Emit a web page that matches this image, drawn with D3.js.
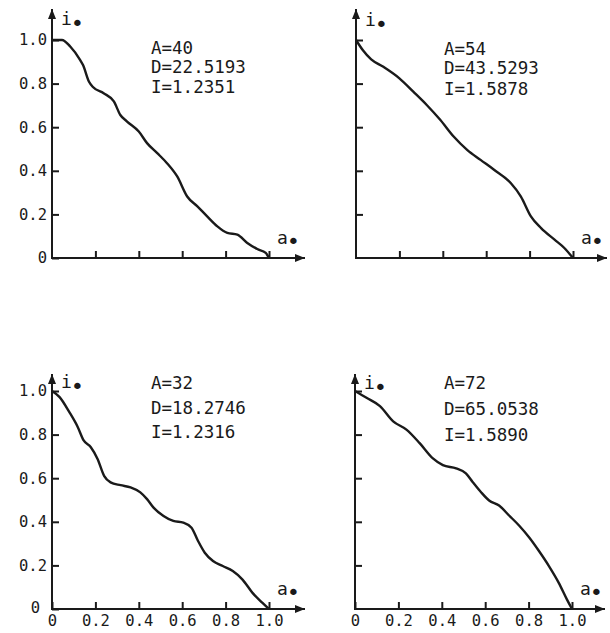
<!DOCTYPE html>
<html lang="en">
<head>
<meta charset="utf-8">
<title>i* against a* for four profiles</title>
<script src="https://d3js.org/d3.v7.min.js"></script>
<style>
  body { margin: 0; background: #fff; }
  text { font-family: "DejaVu Sans Mono", monospace; fill: #1a1a1a; }
</style>
</head>
<body>
<script>
// panel A=40
var a40 = [0, 0.046, 0.085, 0.13, 0.143, 0.17, 0.19, 0.238, 0.285, 0.315, 0.346, 0.4, 0.438, 0.485, 0.53, 0.577, 0.623, 0.67, 0.715, 0.762, 0.808, 0.854, 0.9, 0.946, 0.985, 1.0];
var i40 = [1.0, 1.0, 0.969, 0.908, 0.885, 0.81, 0.783, 0.756, 0.718, 0.656, 0.626, 0.58, 0.527, 0.481, 0.435, 0.374, 0.282, 0.237, 0.191, 0.145, 0.115, 0.107, 0.069, 0.041, 0.023, 0];
var notes40 = ["A=40", "D=22.5193", "I=1.2351"];

// panel A=54
var a54 = [0, 0.031, 0.07, 0.124, 0.2, 0.264, 0.326, 0.388, 0.45, 0.512, 0.574, 0.636, 0.713, 0.76, 0.806, 0.853, 0.915, 0.96, 1.0];
var i54 = [1.0, 0.954, 0.911, 0.878, 0.824, 0.763, 0.702, 0.634, 0.557, 0.496, 0.45, 0.405, 0.344, 0.282, 0.191, 0.137, 0.084, 0.046, 0];
var notes54 = ["A=54", "D=43.5293", "I=1.5878"];

// panel A=32
var a32 = [0, 0.035, 0.08, 0.119, 0.146, 0.179, 0.21, 0.24, 0.27, 0.316, 0.362, 0.407, 0.438, 0.468, 0.514, 0.559, 0.605, 0.643, 0.673, 0.704, 0.742, 0.787, 0.833, 0.878, 0.924, 0.97, 1.0];
var i32 = [1.0, 0.972, 0.903, 0.834, 0.773, 0.742, 0.688, 0.611, 0.581, 0.568, 0.558, 0.535, 0.504, 0.465, 0.427, 0.404, 0.396, 0.373, 0.312, 0.258, 0.22, 0.197, 0.174, 0.135, 0.074, 0.028, 0];
var notes32 = ["A=32", "D=18.2746", "I=1.2316"];

// panel A=72
var a72 = [0, 0.053, 0.115, 0.176, 0.237, 0.298, 0.359, 0.405, 0.466, 0.511, 0.542, 0.58, 0.618, 0.664, 0.71, 0.756, 0.802, 0.847, 0.893, 0.939, 0.977, 1.0];
var i72 = [1.0, 0.969, 0.931, 0.861, 0.823, 0.761, 0.691, 0.66, 0.645, 0.622, 0.583, 0.537, 0.498, 0.475, 0.429, 0.383, 0.329, 0.267, 0.198, 0.12, 0.043, 0];
var notes72 = ["A=72", "D=65.0538", "I=1.5890"];

var tickValues = [0, 0.2, 0.4, 0.6, 0.8, 1.0];
var tickLabels = ["0", "0.2", "0.4", "0.6", "0.8", "1.0"];

var ink = "#1a1a1a";
var w = 217, h = 218;

var panels = [
  { a: a40, i: i40, notes: notes40, left: 52, bottom: 258, yLab: true, xLab: false, top: 9, xTip: 305, noteX: 99, noteY: [54, 73, 93], iY: 25 },
  { a: a54, i: i54, notes: notes54, left: 356, bottom: 258, yLab: false, xLab: false, top: 9, xTip: 607, noteX: 88, noteY: [55, 74, 95], iY: 26 },
  { a: a32, i: i32, notes: notes32, left: 52, bottom: 609, yLab: true, xLab: true, top: 374, xTip: 305, noteX: 99, noteY: [389, 414, 438], iY: 388 },
  { a: a72, i: i72, notes: notes72, left: 355, bottom: 609, yLab: false, xLab: true, top: 374, xTip: 605, noteX: 89, noteY: [389, 415, 441], iY: 389 }
];

var svg = d3.select("body").append("svg")
  .attr("width", 610)
  .attr("height", 633);

svg.append("defs").append("marker")
  .attr("id", "arrow")
  .attr("viewBox", "0 -4 10 8")
  .attr("refX", 10)
  .attr("refY", 0)
  .attr("markerUnits", "userSpaceOnUse")
  .attr("markerWidth", 10)
  .attr("markerHeight", 8)
  .attr("orient", "auto")
  .append("path")
  .attr("d", "M0,-4L10,0L0,4Z")
  .attr("fill", ink);

function fmt(d) {
  return tickLabels[tickValues.indexOf(d)];
}

panels.forEach(function (p) {
  var x = d3.scaleLinear().domain([0, 1]).range([p.left, p.left + w]);
  var y = d3.scaleLinear().domain([0, 1]).range([p.bottom, p.bottom - h]);
  var g = svg.append("g");

  // y ticks (pointing inward)
  var yAxis = d3.axisLeft(y)
    .tickValues(p.yLab ? tickValues : tickValues.slice(1))
    .tickSizeInner(-7)
    .tickSizeOuter(0)
    .tickPadding(5)
    .tickFormat(p.yLab ? fmt : "");
  var yg = g.append("g")
    .attr("transform", "translate(" + p.left + ",0)")
    .call(yAxis);
  yg.select(".domain").remove();
  yg.selectAll("line").attr("stroke", ink).attr("stroke-width", 2);
  yg.selectAll("text")
    .attr("font-family", "DejaVu Sans Mono")
    .attr("font-size", 15.5)
    .attr("fill", ink);
  if (p.xLab) {
    // the zero label sits up and left of the origin
    yg.selectAll(".tick").filter(function (d) { return d === 0; })
      .select("text").attr("dx", "-7").attr("dy", "0.2em");
  }

  // x ticks
  var xAxis = d3.axisBottom(x)
    .tickValues(p.xLab ? tickValues : tickValues.slice(1))
    .tickSizeInner(-7)
    .tickSizeOuter(0)
    .tickPadding(6)
    .tickFormat(p.xLab ? fmt : "");
  var xg = g.append("g")
    .attr("transform", "translate(0," + p.bottom + ")")
    .call(xAxis);
  xg.select(".domain").remove();
  xg.selectAll("line").attr("stroke", ink).attr("stroke-width", 2);
  xg.selectAll("text")
    .attr("font-family", "DejaVu Sans Mono")
    .attr("font-size", 15.5)
    .attr("fill", ink);

  // axis lines with arrows
  g.append("line")
    .attr("x1", p.left).attr("y1", p.bottom + 1)
    .attr("x2", p.left).attr("y2", p.top)
    .attr("stroke", ink).attr("stroke-width", 2)
    .attr("marker-end", "url(#arrow)");
  g.append("line")
    .attr("x1", p.left - 1).attr("y1", p.bottom)
    .attr("x2", p.xTip).attr("y2", p.bottom)
    .attr("stroke", ink).attr("stroke-width", 2)
    .attr("marker-end", "url(#arrow)");

  // axis names
  var it = g.append("text")
    .attr("x", p.left + 9)
    .attr("y", p.iY)
    .attr("font-size", 18)
    .text("i");
  it.append("tspan").attr("dy", 6).attr("dx", -1).attr("font-size", 22).text("•");

  var at = g.append("text")
    .attr("x", p.left + 225)
    .attr("y", p.bottom - 14)
    .attr("font-size", 18)
    .text("a");
  at.append("tspan").attr("dy", 5).attr("dx", -1).attr("font-size", 22).text("•");

  // curve
  var pts = p.a.map(function (v, k) { return [v, p.i[k]]; });
  var line = d3.line()
    .x(function (d) { return x(d[0]); })
    .y(function (d) { return y(d[1]); })
    .curve(d3.curveMonotoneX);
  g.append("path")
    .datum(pts)
    .attr("d", line)
    .attr("fill", "none")
    .attr("stroke", ink)
    .attr("stroke-width", 2.4)
    .attr("stroke-linejoin", "round");

  // notes
  g.selectAll(".note")
    .data(p.notes)
    .enter()
    .append("text")
    .attr("class", "note")
    .attr("x", p.left + p.noteX)
    .attr("y", function (d, k) { return p.noteY[k]; })
    .attr("font-size", 17.5)
    .text(function (d) { return d; });
});
</script>
</body>
</html>
